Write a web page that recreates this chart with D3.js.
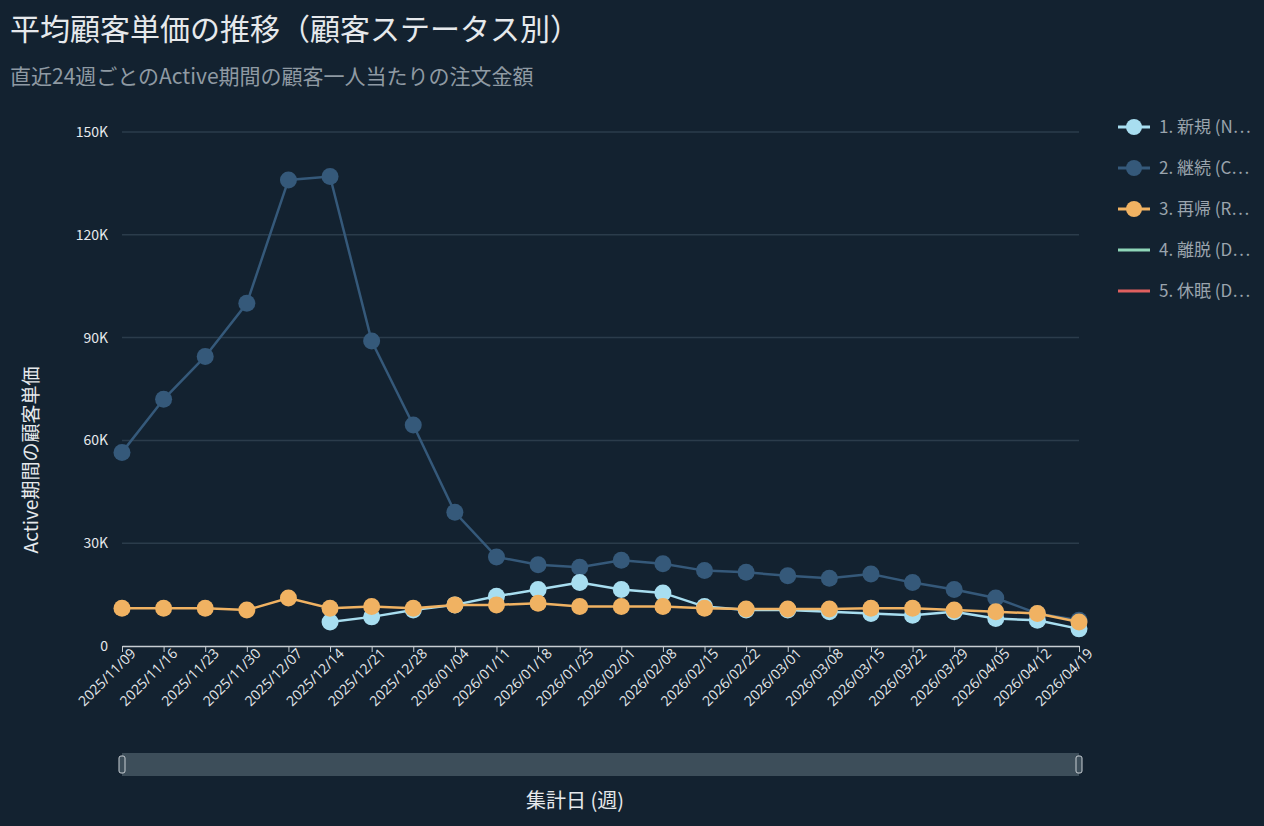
<!DOCTYPE html>
<html><head><meta charset="utf-8">
<script src="https://cdn.jsdelivr.net/npm/d3@7"></script>
<style>
body{margin:0;background:#132230;font-family:"Noto Sans CJK JP","Noto Sans",sans-serif;}
</style></head><body>
<svg id="chart" width="1264" height="826"></svg>
<script>
// data
const weeks = ["2025/11/09","2025/11/16","2025/11/23","2025/11/30","2025/12/07","2025/12/14","2025/12/21","2025/12/28","2026/01/04","2026/01/11","2026/01/18","2026/01/25","2026/02/01","2026/02/08","2026/02/15","2026/02/22","2026/03/01","2026/03/08","2026/03/15","2026/03/22","2026/03/29","2026/04/05","2026/04/12","2026/04/19"];
const newVals = [null,null,null,null,null,7000,8500,10500,12000,14500,16500,18500,16500,15500,11500,10500,10500,10000,9500,9000,10000,8000,7500,5000];
const contVals = [56500,72000,84500,100000,136000,137000,89000,64500,39000,26000,23700,23000,25000,24000,22000,21500,20500,19800,21000,18500,16500,14000,9500,7500];
const retVals = [11000,11000,11000,10500,14000,11000,11500,11000,12000,12000,12500,11500,11500,11500,11000,10800,10800,10800,11000,11000,10500,10000,9500,7000];
const yTicks = [0,30000,60000,90000,120000,150000];
const legendItems = [
  {name:"1. 新規 (N…", color:"#a8def0", dot:true},
  {name:"2. 継続 (C…", color:"#35597a", dot:true},
  {name:"3. 再帰 (R…", color:"#f0b262", dot:true},
  {name:"4. 離脱 (D…", color:"#8fd6b8", dot:false},
  {name:"5. 休眠 (D…", color:"#e0605f", dot:false}
];
const series = [
  {vals:contVals, color:"#35597a"},
  {vals:newVals, color:"#a8def0"},
  {vals:retVals, color:"#f0b262"}
];

const svg = d3.select("#chart");

const x = d3.scalePoint().domain(weeks).range([122, 1079]);
const y = d3.scaleLinear().domain([0,150000]).range([646,132]);

svg.append("text").attr("x",10).attr("y",40).attr("fill","#e6e9ec")
  .attr("font-size",30).text("平均顧客単価の推移（顧客ステータス別）");
svg.append("text").attr("x",10).attr("y",84).attr("fill","#8f9aa3")
  .attr("font-size",21).text("直近24週ごとのActive期間の顧客一人当たりの注文金額");

// grid + y axis
svg.append("g").selectAll("line").data(yTicks.slice(1)).join("line")
  .attr("x1",122).attr("x2",1079).attr("y1",d=>y(d)).attr("y2",d=>y(d))
  .attr("stroke","#2b3c4b").attr("stroke-width",1.5);
svg.append("g").selectAll("text").data(yTicks).join("text")
  .attr("x",108).attr("y",d=>y(d)+5).attr("text-anchor","end")
  .attr("fill","#e6e9ec").attr("font-size",14)
  .text(d=>d===0?"0":(d/1000)+"K");
svg.append("text").attr("transform","translate(38,460) rotate(-90)")
  .attr("text-anchor","middle").attr("fill","#e6e9ec").attr("font-size",19)
  .text("Active期間の顧客単価");

// x axis
const xAxis = svg.append("g").attr("transform","translate(0,646)")
  .call(d3.axisBottom(x).tickSize(6).tickSizeOuter(0));
xAxis.select(".domain").attr("stroke","#c8ced3").attr("stroke-width",1.5);
xAxis.selectAll(".tick line").attr("stroke","#c8ced3");
xAxis.selectAll("text").attr("fill","#e6e9ec").attr("font-size",14)
  .attr("font-family","'Open Sans',sans-serif")
  .attr("text-anchor","end").attr("dx","0.3em").attr("dy","0.5em")
  .attr("transform","rotate(-45)");

// lines
const line = d3.line().defined(d=>d!=null).x((d,i)=>x(weeks[i])).y(d=>y(d));
series.forEach(s=>{
  svg.append("path").datum(s.vals).attr("fill","none").attr("stroke",s.color)
    .attr("stroke-width",2.5).attr("d",line);
  svg.append("g").selectAll("circle").data(s.vals.map((v,i)=>({v,i})).filter(d=>d.v!=null))
    .join("circle").attr("cx",d=>x(weeks[d.i])).attr("cy",d=>y(d.v))
    .attr("r",8.5).attr("fill",s.color);
});

// legend
const lg = svg.append("g").selectAll("g").data(legendItems).join("g")
  .attr("transform",(d,i)=>`translate(1118,${127+i*41})`);
lg.append("line").attr("x1",0).attr("x2",32).attr("stroke",d=>d.color).attr("stroke-width",3);
lg.filter(d=>d.dot).append("circle").attr("cx",16).attr("r",8).attr("fill",d=>d.color);
lg.append("text").attr("x",41).attr("y",6).attr("fill","#9aa4ad").attr("font-size",17).text(d=>d.name);

// zoom slider
svg.append("rect").attr("x",122).attr("y",753).attr("width",957).attr("height",23)
  .attr("fill","#3d4e5a");
[122,1079].forEach(px=>svg.append("rect").attr("x",px-3).attr("y",756).attr("width",6).attr("height",17)
  .attr("rx",2).attr("fill","#3d4e5a").attr("stroke","#c8ced3"));
svg.append("text").attr("x",575).attr("y",808).attr("text-anchor","middle")
  .attr("fill","#e6e9ec").attr("font-size",20).text("集計日 (週)");
</script></body></html>
